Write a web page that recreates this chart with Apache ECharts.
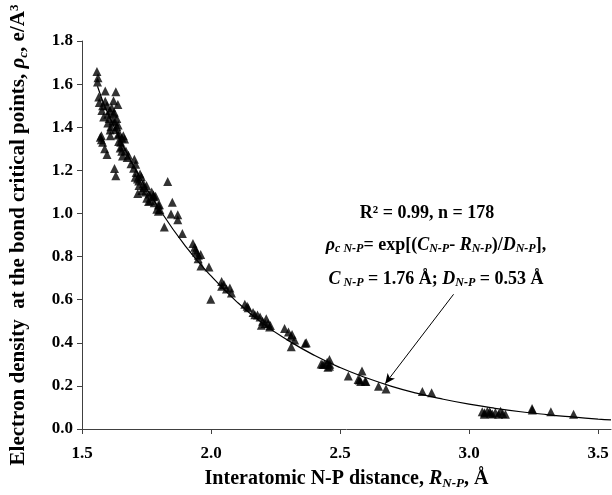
<!DOCTYPE html>
<html>
<head>
<meta charset="utf-8">
<script src="https://cdn.jsdelivr.net/npm/echarts@6/dist/echarts.min.js"></script>
<style>html,body{margin:0;padding:0;background:#fff}#c{width:612px;height:495px}</style>
</head>
<body>
<div id="c"></div>
<script>
// Scatter data: N-P distance (Å) vs electron density (e/Å^3)
var pointsR = [1.558,1.562,1.590,1.631,1.567,1.622,1.639,1.577,1.597,1.608,1.622,1.584,1.627,1.612,1.635,1.609,1.639,1.654,1.571,1.575,1.642,1.665,1.648,1.588,1.597,1.654,1.657,1.626,1.631,1.703,1.708,1.706,1.725,1.721,1.738,1.732,1.716,1.832,1.770,1.777,1.751,1.758,1.796,1.802,1.850,1.845,1.871,1.871,1.819,1.889,1.937,1.944,1.777,1.796,1.951,1.961,1.992,1.999,2.041,2.041,2.073,2.079,2.131,2.144,2.163,2.180,2.214,2.221,2.195,2.227,2.285,2.314,2.324,2.311,2.365,2.433,2.459,2.459,2.369,2.427,2.453,2.532,2.585,2.575,2.597,2.649,2.678,2.819,2.855,3.051,3.071,3.083,3.102,3.122,3.141,3.059,3.114,3.244,3.317,3.405,
1.560,1.565,1.580,1.590,1.600,1.605,1.615,1.620,1.625,1.630,1.635,1.640,1.645,1.600,1.610,1.650,1.655,1.660,1.670,1.675,1.680,1.690,1.700,1.710,1.715,1.720,1.730,1.740,1.745,1.750,1.760,1.765,1.780,1.785,1.790,1.800,1.575,1.580,
1.930,1.940,1.950,1.960,2.050,2.060,2.140,2.170,2.190,2.200,2.210,2.230,2.300,2.310,2.440,2.450,2.460,2.570,2.580,2.600,3.060,3.090,3.130,3.245,3.080];
var pointsRho = [1.659,1.629,1.568,1.565,1.515,1.523,1.505,1.478,1.500,1.478,1.463,1.447,1.425,1.402,1.402,1.387,1.364,1.350,1.354,1.342,1.334,1.345,1.304,1.300,1.274,1.289,1.266,1.209,1.175,1.251,1.228,1.168,1.183,1.130,1.138,1.107,1.092,1.148,1.100,1.078,1.070,1.055,1.039,1.017,1.052,0.997,0.994,0.971,0.937,0.907,0.843,0.820,1.085,1.010,0.806,0.756,0.752,0.602,0.684,0.662,0.654,0.631,0.579,0.563,0.541,0.529,0.511,0.488,0.481,0.473,0.466,0.438,0.413,0.382,0.398,0.299,0.322,0.291,0.400,0.302,0.287,0.246,0.269,0.227,0.221,0.198,0.186,0.174,0.168,0.080,0.082,0.073,0.077,0.082,0.068,0.068,0.068,0.095,0.080,0.069,
1.610,1.540,1.500,1.520,1.460,1.440,1.490,1.430,1.470,1.390,1.440,1.410,1.370,1.420,1.360,1.330,1.310,1.360,1.290,1.260,1.270,1.230,1.210,1.190,1.160,1.150,1.170,1.120,1.100,1.130,1.090,1.060,1.050,1.080,1.020,1.040,1.360,1.330,
0.860,0.830,0.790,0.810,0.670,0.650,0.570,0.530,0.520,0.500,0.490,0.480,0.450,0.430,0.300,0.310,0.300,0.230,0.220,0.220,0.075,0.070,0.072,0.088,0.080];

// Fitted curve
var fitR   = [1.56,1.60,1.70,1.80,1.90,2.00,2.10,2.20,2.30,2.40,2.50,2.60,2.70,2.80,2.90,3.00,3.10,3.20,3.30,3.40,3.50,3.55];
var fitRho = [1.59,1.465,1.22,1.02,0.85,0.71,0.59,0.49,0.41,0.342,0.285,0.238,0.198,0.165,0.138,0.115,0.096,0.080,0.067,0.056,0.046,0.042];

// Arrow (annotation pointer) endpoints in data units
var arrowFrom = [2.94, 0.625];
var arrowTo   = [2.675, 0.21];

var yTicks = ['0.0','0.2','0.4','0.6','0.8','1.0','1.2','1.4','1.6','1.8'];
var xTicks = ['1.5','2.0','2.5','3.0','3.5'];

var FONT = 'Liberation Serif';
var scatter = pointsR.map(function(r,i){return [r, pointsRho[i]];});
var fit = fitR.map(function(r,i){return [r, fitRho[i]];});

var chart = echarts.init(document.getElementById('c'));
function rich(fs, ss, pad){
  return {
    i:{fontFamily:FONT,fontWeight:'bold',fontStyle:'italic',fontSize:fs,color:'#000',fill:'#000'},
    n:{fontFamily:FONT,fontWeight:'bold',fontSize:fs,color:'#000',fill:'#000'},
    s:{fontFamily:FONT,fontWeight:'bold',fontStyle:'italic',fontSize:ss,color:'#000',fill:'#000',padding:[pad,0,0,0]},
    p:{fontFamily:FONT,fontWeight:'bold',fontSize:ss,color:'#000',fill:'#000',padding:[0,0,pad,0]}
  };
}
chart.setOption({
  animation:false,
  backgroundColor:'#fff',
  grid:{left:80,right:1,top:41,bottom:60},
  xAxis:{
    type:'value',min:1.5,max:3.55,interval:0.5,
    axisLine:{show:true,lineStyle:{color:'#404040',width:1}},
    axisTick:{show:true,inside:false,length:5,lineStyle:{color:'#404040'}},
    splitLine:{show:false},
    axisLabel:{showMaxLabel:false,margin:16,fontFamily:FONT,fontWeight:'bold',fontSize:17,color:'#000',
      formatter:function(v){var s=v.toFixed(1);return xTicks.indexOf(s)>=0?s:'';}},
    name:'Interatomic N-P distance, {i|R}{s|N-P}, Å',
    nameLocation:'middle',nameGap:39,
    nameTextStyle:{fontFamily:FONT,fontWeight:'bold',fontSize:20,color:'#000',rich:rich(20,13,9)}
  },
  yAxis:{
    type:'value',min:0,max:1.8,interval:0.2,
    axisLine:{show:true,lineStyle:{color:'#404040',width:1}},
    axisTick:{show:true,inside:false,length:5,lineStyle:{color:'#404040'}},
    splitLine:{show:false},
    axisLabel:{margin:9,fontFamily:FONT,fontWeight:'bold',fontSize:17,color:'#000',
      formatter:function(v){return yTicks[Math.round(v/0.2)];}},
    name:'Electron density  at the bond critical points, {i|ρ}{s|c}, e/A{p|3}',
    nameLocation:'middle',nameGap:52,nameRotate:90,
    nameTextStyle:{fontFamily:FONT,fontWeight:'bold',fontSize:21,color:'#000',rich:rich(21,13,9)}
  },
  series:[
    {type:'scatter',data:scatter,symbol:'triangle',symbolSize:9,itemStyle:{color:'#000'},z:2},
    {type:'line',data:fit,smooth:true,showSymbol:false,symbol:'none',lineStyle:{color:'#000',width:1.2},z:3,
     markLine:{silent:true,symbol:['none','arrow'],symbolSize:[7,10],label:{show:false},
       lineStyle:{color:'#000',width:1,type:'solid'},
       data:[[{coord:arrowFrom},{coord:arrowTo}]]}}
  ],
  graphic:[
    {type:'text',x:427,y:213,style:{text:'R² = 0.99, n = 178',align:'center',verticalAlign:'middle',
      fontFamily:FONT,fontWeight:'bold',fontSize:18,fill:'#000'}},
    {type:'text',x:436,y:245,style:{
      text:'{i|ρ}{s|c N-P}{n|= exp[(}{i|C}{s|N-P}{n|- }{i|R}{s|N-P}{n|)/}{i|D}{s|N-P}{n|],}',
      align:'center',verticalAlign:'middle',rich:rich(18,12,8)}},
    {type:'text',x:436,y:279,style:{
      text:'{i|C}{s| N-P}{n| = 1.76 Å; }{i|D}{s|N-P}{n| = 0.53 Å}',
      align:'center',verticalAlign:'middle',rich:rich(18,12,8)}}
  ]
});
</script>
</body>
</html>
